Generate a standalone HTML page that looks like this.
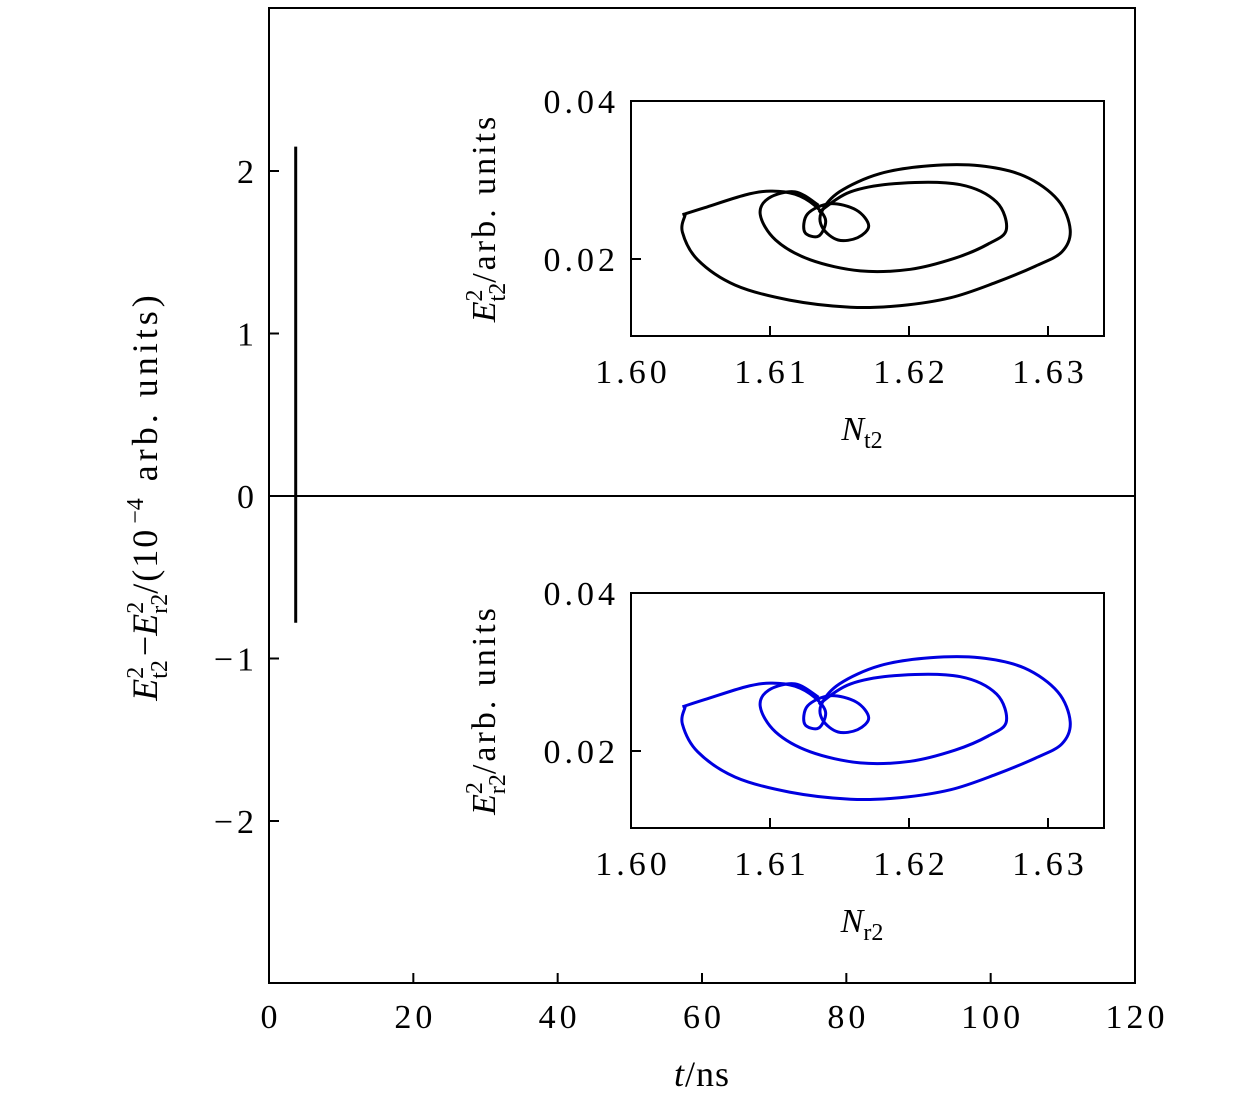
<!DOCTYPE html>
<html><head><meta charset="utf-8"><style>
body{margin:0;background:#fff;}
svg text{font-family:"Liberation Serif",serif;fill:#000;}
.tk{letter-spacing:4px;}
</style></head><body>
<svg id="chart" width="1260" height="1102" xmlns="http://www.w3.org/2000/svg"></svg>
<script>
// main chart data
const mainXTicks=[0,20,40,60,80,100,120];
const mainYTicks=[-2,-1,0,1,2];
const mainYTickLabels=["\u22122","\u22121","0","1","2"];
const spikeT=[3.7];
const spikeMin=[-0.78];
const spikeMax=[2.15];
const zeroLineT=[0,120];
const zeroLineV=[0,0];
// inset attractor data (N, E^2)
const outerN=[1.6037,1.6053,1.6082,1.6100,1.6118,1.6132,1.6140,1.6135,1.6125,1.6127,1.6143,1.6162,1.6171,1.6163,1.6149,1.6138,1.6137,1.6150,1.6179,1.6215,1.6251,1.6283,1.6307,1.6316,1.6310,1.6291,1.6262,1.6230,1.6194,1.6158,1.6114,1.6075,1.6048,1.6037,1.6039];
const outerE=[0.0256,0.0265,0.0281,0.0286,0.0282,0.0268,0.0249,0.0229,0.0234,0.0257,0.0270,0.0262,0.0242,0.0227,0.0224,0.0239,0.0259,0.0285,0.0308,0.0318,0.0318,0.0305,0.0275,0.0237,0.0209,0.0191,0.0170,0.0151,0.0141,0.0139,0.0148,0.0167,0.0199,0.0234,0.0256];
const innerN=[1.6135,1.6158,1.6194,1.6237,1.6263,1.6270,1.6257,1.6233,1.6201,1.6165,1.6129,1.6104,1.6093,1.6099,1.6118,1.6135];
const innerE=[0.0259,0.0285,0.0296,0.0294,0.0272,0.0237,0.0219,0.0201,0.0187,0.0185,0.0199,0.0224,0.0256,0.0277,0.0285,0.0268];
const insetXTicks=[1.60,1.61,1.62,1.63];
const insetYTicks=[0.02,0.04];

const NS="http://www.w3.org/2000/svg";
const svg=document.getElementById('chart');
function mk(tag,attrs,parent){const e=document.createElementNS(NS,tag);for(const k in attrs)e.setAttribute(k,attrs[k]);(parent||svg).appendChild(e);return e;}

// main axes
const L=269,R=1135,T=8,B=983;
const mx=v=>L+(v-0)/120*(R-L);
const my=v=>496-v*162.5;
const frame=mk('rect',{x:L,y:T,width:R-L,height:B-T,fill:'none',stroke:'#000','stroke-width':2});

mainXTicks.forEach(t=>{
  const l=mk('line',{x1:mx(t),x2:mx(t),y1:B,y2:B-10,stroke:'#000','stroke-width':2});
  
  const tx=mk('text',{x:mx(t)+2,y:1028,'text-anchor':'middle','font-size':34,class:'tk'});tx.textContent=t;
  
});
mainYTicks.forEach((t,i)=>{
  const l=mk('line',{x1:L,x2:L+10,y1:my(t),y2:my(t),stroke:'#000','stroke-width':2});
  
  const tx=mk('text',{x:258,y:my(t)+12,'text-anchor':'end','font-size':34,class:'tk'});tx.textContent=mainYTickLabels[i];
  
});
const xt=mk('text',{x:702,y:1086,'text-anchor':'middle','font-size':36,'letter-spacing':1});
xt.innerHTML='<tspan font-style="italic">t</tspan>/ns';

const yt=mk('text',{x:0,y:0,'text-anchor':'middle','font-size':36,transform:'translate(157,496) rotate(-90)'});
yt.innerHTML='<tspan font-style="italic">E</tspan><tspan font-size="24" dy="-14">2</tspan><tspan font-size="24" dx="-12" dy="24">t2</tspan><tspan dy="-10" dx="4">\u2212</tspan><tspan font-style="italic">E</tspan><tspan font-size="24" dy="-14">2</tspan><tspan font-size="24" dx="-12" dy="24">r2</tspan><tspan dy="-10" letter-spacing="2">/(10</tspan><tspan font-size="24" dy="-14" dx="4">\u22124</tspan><tspan dy="14" dx="4" letter-spacing="4"> arb. units)</tspan>';

const zl=mk('line',{x1:mx(zeroLineT[0]),x2:mx(zeroLineT[1]),y1:my(zeroLineV[0]),y2:my(zeroLineV[1]),stroke:'#000','stroke-width':2});

spikeT.forEach((t,i)=>{
  const s=mk('line',{x1:mx(t),x2:mx(t),y1:my(spikeMax[i]),y2:my(spikeMin[i]),stroke:'#000','stroke-width':3});
  
});

function smooth(pts){
  let d='M'+pts[0][0]+','+pts[0][1];
  for(let i=0;i<pts.length-1;i++){
    const p0=pts[Math.max(i-1,0)],p1=pts[i],p2=pts[i+1],p3=pts[Math.min(i+2,pts.length-1)];
    const c1=[p1[0]+(p2[0]-p0[0])/6,p1[1]+(p2[1]-p0[1])/6];
    const c2=[p2[0]-(p3[0]-p1[0])/6,p2[1]-(p3[1]-p1[1])/6];
    d+=' C'+c1[0].toFixed(1)+','+c1[1].toFixed(1)+' '+c2[0].toFixed(1)+','+c2[1].toFixed(1)+' '+p2[0].toFixed(1)+','+p2[1].toFixed(1);
  }
  return d;
}

function inset(top,color,sub,name){
  const g=mk('g',{});
  
  const x0=631,x1=1104,y0=top,y1=top+235;
  const ix=v=>x0+(v-1.60)*13900;
  const iy=v=>y0+(0.04-v)*7900;
  const r=mk('rect',{x:x0,y:y0,width:x1-x0,height:y1-y0,fill:'none',stroke:'#000','stroke-width':2},g);
  
  insetXTicks.forEach(t=>{
    const l=mk('line',{x1:ix(t),x2:ix(t),y1:y1,y2:y1-10,stroke:'#000','stroke-width':2},g);
    
    const tx=mk('text',{x:ix(t)+2,y:y1+47,'text-anchor':'middle','font-size':34,class:'tk'},g);tx.textContent=t.toFixed(2);
    
  });
  insetYTicks.forEach(t=>{
    const l=mk('line',{x1:x0,x2:x0+10,y1:iy(t),y2:iy(t),stroke:'#000','stroke-width':2},g);
    
    const tx=mk('text',{x:x0-12,y:iy(t)+12,'text-anchor':'end','font-size':34,class:'tk'},g);tx.textContent=t.toFixed(2);
    
  });
  const xl=mk('text',{x:862,y:y1+104,'text-anchor':'middle','font-size':34},g);
  xl.innerHTML='<tspan font-style="italic">N</tspan><tspan font-size="24" dy="8">'+sub+'</tspan>';
  
  const yl=mk('text',{x:0,y:0,'text-anchor':'middle','font-size':34,transform:'translate(495,'+(y0+117)+') rotate(-90)'},g);
  yl.innerHTML='<tspan font-style="italic">E</tspan><tspan font-size="24" dy="-13">2</tspan><tspan font-size="24" dx="-12" dy="23">'+sub+'</tspan><tspan dy="-10" letter-spacing="3">/arb. units</tspan>';
  
  const p1=mk('path',{d:smooth(outerN.map((n,i)=>[ix(n),iy(outerE[i])])),fill:'none',stroke:color,'stroke-width':3},g);
  
  const p2=mk('path',{d:smooth(innerN.map((n,i)=>[ix(n),iy(innerE[i])])),fill:'none',stroke:color,'stroke-width':3},g);
  
}
inset(101,'#000','t2','inset-transmitted');
inset(593,'#0000e0','r2','inset-reflected');
</script>
</body></html>
